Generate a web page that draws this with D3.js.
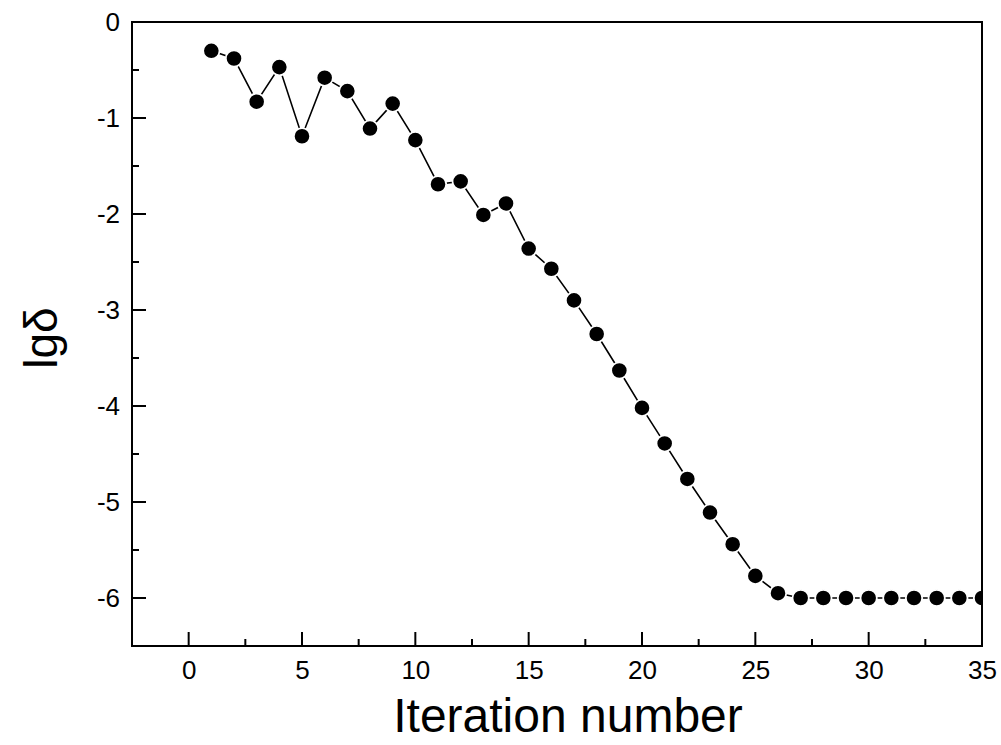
<!DOCTYPE html>
<html><head><meta charset="utf-8">
<script src="https://cdn.jsdelivr.net/npm/d3@7"></script>
<style>body{margin:0;background:#fff;} text{font-family:Arial,"Liberation Sans",sans-serif;}</style>
</head><body>
<svg id="chart" width="1001" height="745"></svg>
<script>
const iterations = [1,2,3,4,5,6,7,8,9,10,11,12,13,14,15,16,17,18,19,20,21,22,23,24,25,26,27,28,29,30,31,32,33,34,35];
const lgDelta = [-0.30,-0.38,-0.83,-0.47,-1.19,-0.58,-0.72,-1.11,-0.85,-1.23,-1.69,-1.66,-2.01,-1.89,-2.36,-2.57,-2.90,-3.25,-3.63,-4.02,-4.39,-4.76,-5.11,-5.44,-5.77,-5.95,-6.00,-6.00,-6.00,-6.00,-6.00,-6.00,-6.00,-6.00,-6.00];
const xTicks = [0,5,10,15,20,25,30,35];
const yTicks = [0,-1,-2,-3,-4,-5,-6];
const xTitle = "Iteration number";
const yTitle = "lgδ";

const svg = d3.select("#chart");
const L = 132, R = 982, T = 22, B = 646;
const x = d3.scaleLinear().domain([-2.5, 35]).range([L, R]);
const y = d3.scaleLinear().domain([-6.5, 0]).range([B, T]);

svg.append("defs").append("clipPath").attr("id","clip")
  .append("rect").attr("x",L).attr("y",T).attr("width",R-L).attr("height",B-T);

const g = svg.append("g").attr("clip-path","url(#clip)");
const data = iterations.map((d,i)=>({x:d,y:lgDelta[i]}));
g.append("path").datum(data)
  .attr("fill","none").attr("stroke","#000").attr("stroke-width",1.6)
  .attr("d", d3.line().x(d=>x(d.x)).y(d=>y(d.y)));
g.selectAll("circle").data(data).join("circle")
  .attr("cx",d=>x(d.x)).attr("cy",d=>y(d.y)).attr("r",8.2)
  .attr("fill","#000").attr("stroke","#fff").attr("stroke-width",1.8);

// frame
svg.append("rect").attr("x",L).attr("y",T).attr("width",R-L).attr("height",B-T)
  .attr("fill","none").attr("stroke","#000").attr("stroke-width",2);

// x axis
const xMinor = d3.range(-2.5, 35.01, 2.5).filter(v=>!xTicks.includes(v));
const xAxis = d3.axisBottom(x).tickValues(xTicks).tickSize(0).tickPadding(15).tickFormat(d3.format("d"));
const xa = svg.append("g").attr("transform",`translate(0,${B})`).call(xAxis);
xa.select(".domain").remove();
xa.selectAll("text").attr("font-size",26).attr("fill","#000").attr("font-family","Arial, 'Liberation Sans', sans-serif");
svg.selectAll(".xmaj").data(xTicks.filter(v=>v<35)).join("line")
  .attr("x1",d=>x(d)).attr("x2",d=>x(d)).attr("y1",B).attr("y2",B-14)
  .attr("stroke","#000").attr("stroke-width",2);
svg.selectAll(".xmin").data(xMinor.filter(v=>v>-2.5)).join("line")
  .attr("x1",d=>x(d)).attr("x2",d=>x(d)).attr("y1",B).attr("y2",B-7)
  .attr("stroke","#000").attr("stroke-width",2);

// y axis
const yMinor = d3.range(-6.5, 0.01, 0.5).filter(v=>!yTicks.includes(v));
const yAxis = d3.axisLeft(y).tickValues(yTicks).tickSize(0).tickPadding(12).tickFormat(d=>d3.format("d")(d).replace("−","-"));
const ya = svg.append("g").attr("transform",`translate(${L},0)`).call(yAxis);
ya.select(".domain").remove();
ya.selectAll("text").attr("font-size",26).attr("fill","#000").attr("font-family","Arial, 'Liberation Sans', sans-serif");
svg.selectAll(".ymaj").data(yTicks.filter(v=>v<0)).join("line")
  .attr("x1",L).attr("x2",L+14).attr("y1",d=>y(d)).attr("y2",d=>y(d))
  .attr("stroke","#000").attr("stroke-width",2);
svg.selectAll(".ymin").data(yMinor.filter(v=>v>-6.5)).join("line")
  .attr("x1",L).attr("x2",L+7).attr("y1",d=>y(d)).attr("y2",d=>y(d))
  .attr("stroke","#000").attr("stroke-width",2);

// titles
svg.append("text").attr("x",568).attr("y",732).attr("text-anchor","middle")
  .attr("font-size",48).attr("fill","#000").text(xTitle);
svg.append("text").attr("transform",`translate(57,338) rotate(-90)`).attr("text-anchor","middle")
  .attr("font-size",46).attr("fill","#000").text(yTitle);
</script>
</body></html>
